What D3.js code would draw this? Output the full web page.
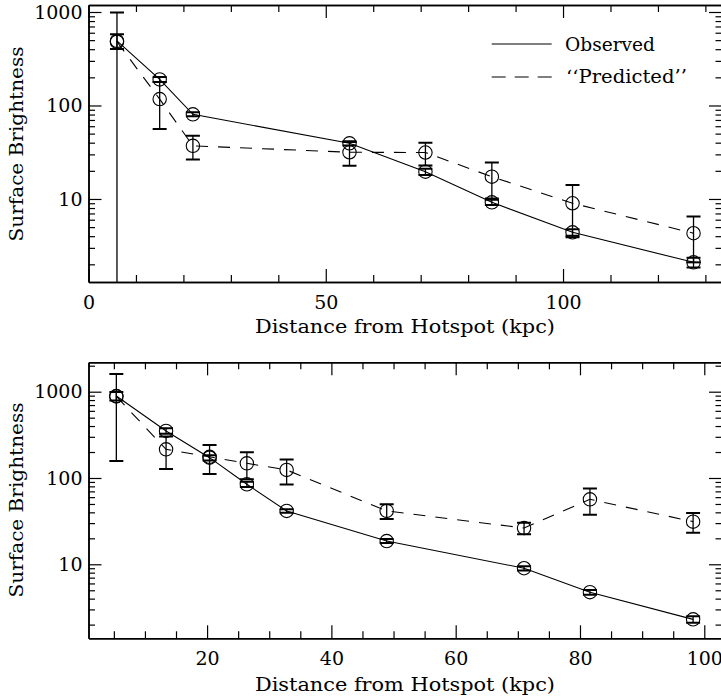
<!DOCTYPE html>
<html>
<head>
<meta charset="utf-8">
<script src="https://cdn.jsdelivr.net/npm/d3@7"></script>
<style>
  html, body { margin: 0; padding: 0; background: #fff; }
  svg { display: block; }
  text { font-family: "DejaVu Serif", serif; fill: #000; }
</style>
</head>
<body>
<script>
// ---------------- data ----------------
const topDistance      = [6, 15, 22, 55, 71, 85, 102, 127.5];
const topObserved      = [490, 190, 80.5, 39.4, 19.6, 9.2, 4.4, 2.1];
const topObservedErr   = [88, 12, 4, 2, 1.5, 0.6, 0.35, 0.25];
const topPredicted     = [480, 117, 37, 31.6, 31.4, 17.3, 9.0, 4.3];
const topPredictedErr  = [510, 61, 10.5, 9, 8.6, 7.2, 5.1, 2.2];

const bottomDistance     = [5.4, 13.4, 20.4, 26.4, 32.8, 48.9, 71, 81.6, 98.2];
const bottomObserved     = [890, 351, 172, 84.5, 41.5, 18.6, 9.0, 4.75, 2.3];
const bottomObservedErr  = [100, 25, 12, 6, 2, 1, 0.5, 0.3, 0.2];
const bottomPredicted    = [880, 215, 176, 148, 124, 41.5, 26.3, 56.6, 31.2];
const bottomPredictedErr = [723, 88, 65, 51, 40, 8, 4, 19, 8];

const topXMajor = [0, 50, 100];
const topXMinor = [10, 20, 30, 40, 60, 70, 80, 90, 110, 120, 130];
const bottomXMajor = [20, 40, 60, 80, 100];
const bottomXMinor = [5, 10, 15, 25, 30, 35, 45, 50, 55, 65, 70, 75, 85, 90, 95];
const yMajor = [10, 100, 1000];
const yMinor = [2,3,4,5,6,7,8,9, 20,30,40,50,60,70,80,90, 200,300,400,500,600,700,800,900, 2000];

const seriesNames = ["Observed", "\u2018\u2018Predicted\u2019\u2019"];
const xTitle = "Distance from Hotspot (kpc)";
const yTitle = "Surface Brightness";

// ---------------- layout ----------------
const W = 721, H = 700;
const svg = d3.select("body").append("svg").attr("width", W).attr("height", H);

const panels = [
  { left: 88.5, right: 722, top: 5, bottom: 282, xDom: [0, 133.5], yDom: [1.294, 1188],
    xMajor: topXMajor, xMinor: topXMinor, xPad: 14, titleBase: 333, yTitleC: 144,
    dist: topDistance, obs: topObserved, obsErr: topObservedErr, pred: topPredicted, predErr: topPredictedErr, legend: true },
  { left: 88.5, right: 722, top: 362.3, bottom: 638.3, xDom: [0.92, 102.85], yDom: [1.388, 2191],
    xMajor: bottomXMajor, xMinor: bottomXMinor, xPad: 13, titleBase: 691, yTitleC: 500,
    dist: bottomDistance, obs: bottomObserved, obsErr: bottomObservedErr, pred: bottomPredicted, predErr: bottomPredictedErr, legend: false }
];

panels.forEach((p, i) => {
  const x = d3.scaleLinear().domain(p.xDom).range([p.left, p.right]);
  const y = d3.scaleLog().domain(p.yDom).range([p.bottom, p.top]);
  const g = svg.append("g");
  const yMin = yMinor.filter(v => v >= p.yDom[0] && v <= p.yDom[1]);

  const styleAxis = sel => {
    sel.select(".domain").attr("stroke", "#000").attr("stroke-width", 1.5);
    sel.selectAll(".tick line").attr("stroke", "#000").attr("stroke-width", 1.2);
    sel.selectAll("text").attr("font-family", "DejaVu Serif").attr("font-size", 19).attr("fill", "#000");
  };

  // bottom axis (labels) + minor
  g.append("g").attr("transform", `translate(0,${p.bottom})`)
    .call(d3.axisBottom(x).tickValues(p.xMajor).tickSize(-13).tickSizeOuter(0).tickPadding(p.xPad).tickFormat(d3.format("d")))
    .call(styleAxis);
  g.append("g").attr("transform", `translate(0,${p.bottom})`)
    .call(d3.axisBottom(x).tickValues(p.xMinor).tickSize(-7).tickSizeOuter(0).tickFormat(""))
    .call(styleAxis);
  // top axis (mirror)
  g.append("g").attr("transform", `translate(0,${p.top})`)
    .call(d3.axisTop(x).tickValues(p.xMajor).tickSize(-13).tickSizeOuter(0).tickFormat(""))
    .call(styleAxis);
  g.append("g").attr("transform", `translate(0,${p.top})`)
    .call(d3.axisTop(x).tickValues(p.xMinor).tickSize(-7).tickSizeOuter(0).tickFormat(""))
    .call(styleAxis);
  // left axis
  g.append("g").attr("transform", `translate(${p.left},0)`)
    .call(d3.axisLeft(y).tickValues(yMajor).tickSize(-13).tickSizeOuter(0).tickPadding(6).tickFormat(d3.format("d")))
    .call(styleAxis);
  g.append("g").attr("transform", `translate(${p.left},0)`)
    .call(d3.axisLeft(y).tickValues(yMin).tickSize(-6.5).tickSizeOuter(0).tickFormat(""))
    .call(styleAxis);
  // right axis (mirror)
  g.append("g").attr("transform", `translate(${p.right},0)`)
    .call(d3.axisRight(y).tickValues(yMajor).tickSize(-13).tickSizeOuter(0).tickFormat(""))
    .call(styleAxis);
  g.append("g").attr("transform", `translate(${p.right},0)`)
    .call(d3.axisRight(y).tickValues(yMin).tickSize(-6.5).tickSizeOuter(0).tickFormat(""))
    .call(styleAxis);

  // titles
  g.append("text").attr("x", 405).attr("y", p.titleBase).attr("text-anchor", "middle")
    .attr("font-size", 19).attr("textLength", 300).attr("lengthAdjust", "spacingAndGlyphs").text(xTitle);
  g.append("text").attr("transform", `translate(23,${p.yTitleC}) rotate(-90)`).attr("text-anchor", "middle")
    .attr("font-size", 19).attr("textLength", 195).attr("lengthAdjust", "spacingAndGlyphs").text(yTitle);

  // clip
  const clipId = "clip" + i;
  svg.append("clipPath").attr("id", clipId).append("rect")
    .attr("x", p.left).attr("y", p.top).attr("width", p.right - p.left).attr("height", p.bottom - p.top);
  const plot = g.append("g").attr("clip-path", `url(#${clipId})`);

  const line = d3.line().x(d => x(d[0])).y(d => y(d[1]));
  const obsPts = p.dist.map((d, k) => [d, p.obs[k]]);
  const predPts = p.dist.map((d, k) => [d, p.pred[k]]);

  plot.append("path").attr("d", line(obsPts)).attr("fill", "none").attr("stroke", "#000").attr("stroke-width", 1.1);
  plot.append("path").attr("d", line(predPts)).attr("fill", "none").attr("stroke", "#000").attr("stroke-width", 1.1)
    .attr("stroke-dasharray", "12,10");

  const errBars = (vals, errs) => {
    p.dist.forEach((d, k) => {
      const hi = vals[k] + errs[k];
      const lo = vals[k] - errs[k];
      const yHi = y(Math.min(hi, p.yDom[1] * 1.5));
      const yLo = lo > 0 ? y(lo) : p.bottom + 5;
      plot.append("line").attr("x1", x(d)).attr("x2", x(d)).attr("y1", yHi).attr("y2", yLo)
        .attr("stroke", "#000").attr("stroke-width", 1.3);
      [[hi, hi <= p.yDom[1]], [lo, lo > p.yDom[0]]].forEach(([v, ok]) => {
        if (!ok) return;
        plot.append("line").attr("x1", x(d) - 7).attr("x2", x(d) + 7).attr("y1", y(v)).attr("y2", y(v))
          .attr("stroke", "#000").attr("stroke-width", 2);
      });
    });
  };
  errBars(p.obs, p.obsErr);
  errBars(p.pred, p.predErr);

  [p.obs, p.pred].forEach(vals => {
    plot.selectAll(null).data(p.dist.map((d, k) => [d, vals[k]])).enter().append("circle")
      .attr("cx", d => x(d[0])).attr("cy", d => y(d[1])).attr("r", 6.7)
      .attr("fill", "none").attr("stroke", "#000").attr("stroke-width", 1.1);
  });

  if (p.legend) {
    const lg = g.append("g");
    lg.append("line").attr("x1", 491.7).attr("x2", 551.7).attr("y1", 44).attr("y2", 44)
      .attr("stroke", "#000").attr("stroke-width", 1.1);
    lg.append("line").attr("x1", 491.7).attr("x2", 551.7).attr("y1", 77).attr("y2", 77)
      .attr("stroke", "#000").attr("stroke-width", 1.1).attr("stroke-dasharray", "14,9");
    lg.append("text").attr("x", 565).attr("y", 50.5).attr("font-size", 19)
      .attr("textLength", 90).attr("lengthAdjust", "spacingAndGlyphs").text(seriesNames[0]);
    lg.append("text").attr("x", 566).attr("y", 83).attr("font-size", 19)
      .attr("textLength", 121).attr("lengthAdjust", "spacingAndGlyphs").text(seriesNames[1]);
  }
});
</script>
</body>
</html>
